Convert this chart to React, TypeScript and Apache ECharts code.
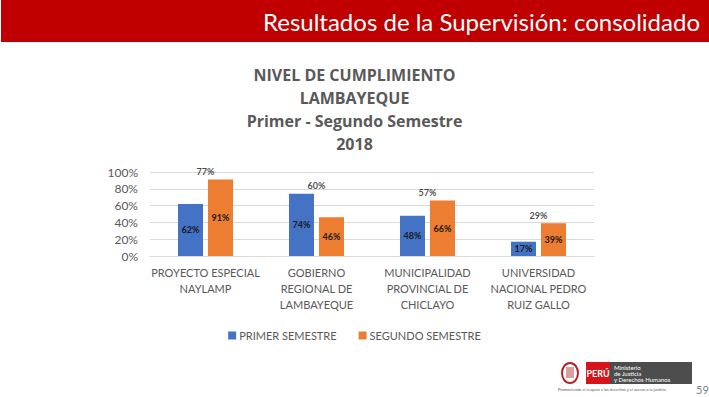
import React, { useEffect, useRef } from "react";
import * as echarts from "echarts";

const categories = [
  "PROYECTO ESPECIAL\nNAYLAMP",
  "GOBIERNO\nREGIONAL DE\nLAMBAYEQUE",
  "MUNICIPALIDAD\nPROVINCIAL DE\nCHICLAYO",
  "UNIVERSIDAD\nNACIONAL PEDRO\nRUIZ GALLO",
];
const primerSemestre = [62, 74, 48, 17];
const segundoSemestre = [91, 46, 66, 39];
const promedio = [77, 60, 57, 29];
const yTicks = [0, 20, 40, 60, 80, 100];
const titleLines = ["NIVEL DE CUMPLIMIENTO", "LAMBAYEQUE", "Primer - Segundo Semestre", "2018"];

const CAL = "Lato, 'Open Sans', 'Noto Sans', sans-serif";
const TITLE_FONT = "'Open Sans', 'Noto Sans', sans-serif";

export default function App() {
  const ref = useRef<HTMLDivElement>(null);
  useEffect(() => {
    if (!ref.current) return;
    const chart = echarts.init(ref.current, null, { renderer: "svg" });
    const labelStyle = {
      show: true,
      position: "inside" as const,
      fontSize: 9,
      fontWeight: "bold" as const,
      color: "#1a1a1a",
      fontFamily: CAL,
      formatter: (p: any) => p.value + "%",
    };
    chart.setOption({
      animation: false,
      backgroundColor: "#ffffff",
      title: {
        text: titleLines.join("\n"),
        left: "center",
        top: 58,
        textStyle: {
          fontFamily: TITLE_FONT,
          fontSize: 16,
          fontWeight: "bold",
          color: "#595959",
          lineHeight: 23,
        },
      },
      grid: { left: 150, right: 115, top: 172, bottom: 141, containLabel: false },
      legend: {
        data: ["PRIMER SEMESTRE", "SEGUNDO SEMESTRE"],
        left: "center",
        top: 325,
        icon: "rect",
        itemWidth: 8,
        itemHeight: 8,
        itemGap: 22,
        textStyle: { fontFamily: CAL, fontSize: 11, color: "#595959", padding: [0, 0, 0, -2] },
      },
      xAxis: {
        type: "category",
        data: categories,
        axisLine: { show: true, lineStyle: { color: "#d9d9d9" } },
        axisTick: { show: false },
        axisLabel: {
          interval: 0,
          margin: 8,
          fontFamily: CAL,
          fontSize: 11,
          lineHeight: 16,
          color: "#595959",
        },
      },
      yAxis: {
        type: "value",
        min: yTicks[0],
        max: yTicks[yTicks.length - 1],
        interval: 20,
        axisLine: { show: false },
        axisTick: { show: false },
        splitLine: { lineStyle: { color: "#d9d9d9" } },
        axisLabel: {
          formatter: "{value}%",
          margin: 12,
          fontFamily: CAL,
          fontSize: 12,
          color: "#595959",
        },
      },
      series: [
        {
          name: "PRIMER SEMESTRE",
          type: "bar",
          data: primerSemestre,
          barWidth: 25,
          barGap: "20%",
          itemStyle: { color: "#4472C4" },
          label: labelStyle,
        },
        {
          name: "SEGUNDO SEMESTRE",
          type: "bar",
          data: segundoSemestre,
          barWidth: 25,
          barGap: "20%",
          itemStyle: { color: "#ED7D31" },
          label: labelStyle,
        },
        {
          name: "PROMEDIO",
          type: "scatter",
          data: promedio.map((v, i) => [i, Math.max(primerSemestre[i], segundoSemestre[i])]),
          symbolSize: 1,
          itemStyle: { color: "rgba(0,0,0,0)" },
          label: {
            show: true,
            position: "top",
            distance: 3,
            fontSize: 9,
            fontWeight: "bold",
            color: "#1a1a1a",
            fontFamily: CAL,
            formatter: (p: any) => promedio[p.dataIndex] + "%",
          },
          silent: true,
        },
      ],
      graphic: [
        { type: "rect", shape: { x: 1, y: 0, width: 708, height: 42 }, style: { fill: "#c00000" } },
        {
          type: "text",
          x: 700,
          y: 21,
          style: {
            text: "Resultados de la Supervisión: consolidado",
            fill: "#ffffff",
            font: "24px " + CAL,
            align: "right",
            verticalAlign: "middle",
          },
        },
        // coat of arms (approximation)
        { type: "ellipse", shape: { cx: 570, cy: 373, rx: 8, ry: 10 }, style: { fill: "#ffffff", stroke: "#b22222", lineWidth: 2 } },
        { type: "rect", shape: { x: 566, y: 367, width: 8, height: 11 }, style: { fill: "#d9a0a0" } },
        { type: "rect", shape: { x: 586, y: 362, width: 24, height: 22 }, style: { fill: "#d7141a" } },
        {
          type: "text",
          x: 598,
          y: 373,
          style: { text: "PERÚ", fill: "#ffffff", font: "bold 9px " + CAL, align: "center", verticalAlign: "middle" },
        },
        { type: "rect", shape: { x: 610, y: 362, width: 82, height: 22 }, style: { fill: "#4d4d4d" } },
        {
          type: "text",
          x: 614,
          y: 364,
          style: {
            text: "Ministerio\nde Justicia\ny Derechos Humanos",
            fill: "#ffffff",
            font: "6px " + CAL,
            lineHeight: 6,
            align: "left",
            verticalAlign: "top",
          },
        },
        {
          type: "text",
          x: 558,
          y: 389,
          style: {
            text: "Promoviendo el respeto a los derechos y el acceso a la justicia",
            fill: "#595959",
            font: "4px " + CAL,
            align: "left",
            verticalAlign: "middle",
          },
        },
        {
          type: "text",
          x: 696,
          y: 389,
          style: { text: "59", fill: "#808080", font: "11px " + CAL, align: "left", verticalAlign: "middle" },
        },
      ],
    });
    return () => chart.dispose();
  }, []);
  return (
    <div
      ref={ref}
      style={{ position: "fixed", left: 0, top: 0, width: 709, height: 397 }}
    />
  );
}
